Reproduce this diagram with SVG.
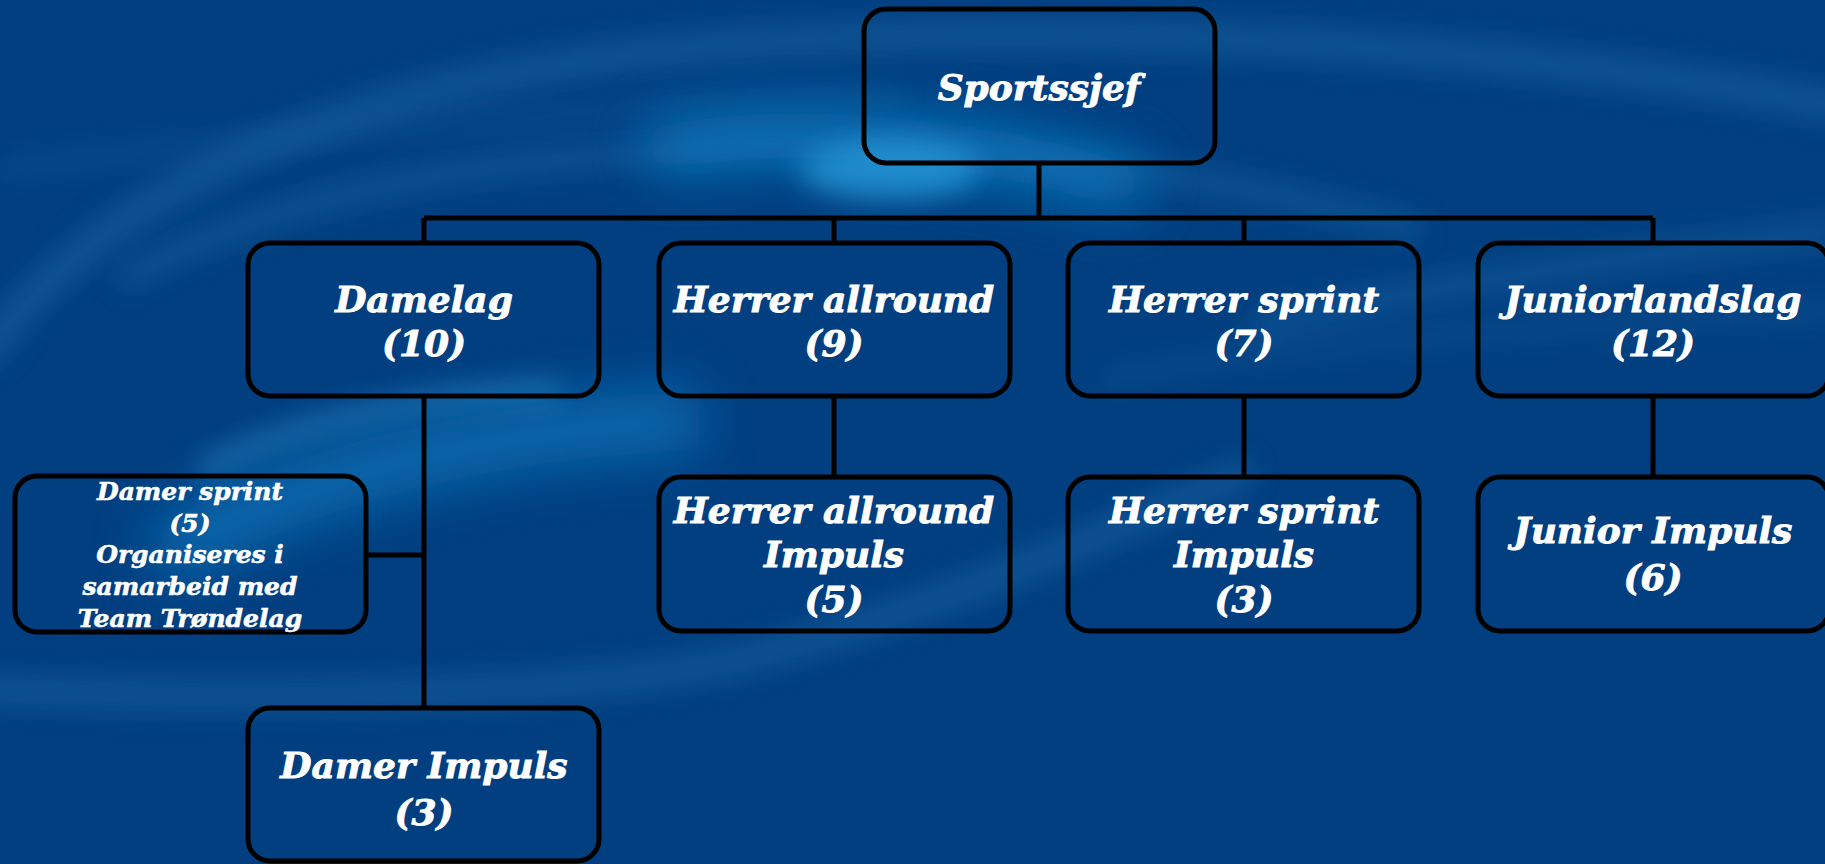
<svg xmlns="http://www.w3.org/2000/svg" width="1825" height="864" viewBox="0 0 1825 864">
<defs>
<style>
.box{fill:none;stroke:#000;stroke-width:5}
.t{font-family:"DejaVu Serif","Liberation Serif",serif;font-weight:bold;font-style:italic;font-size:36px;fill:#fff;stroke:#fff;stroke-width:0.9;text-anchor:middle}
.s{font-size:25px;stroke-width:0.6}
.c{stroke:#000;stroke-width:5;fill:none}
</style>
<filter id="b1" filterUnits="userSpaceOnUse" x="-300" y="-300" width="2425" height="1464"><feGaussianBlur stdDeviation="14"/></filter>
<filter id="b2" filterUnits="userSpaceOnUse" x="-300" y="-300" width="2425" height="1464"><feGaussianBlur stdDeviation="28"/></filter>
</defs>
<g id="background">
<rect width="1825" height="864" fill="#023f80"/>
<path d="M-20,360 C120,160 420,60 800,40 C1200,20 1600,60 1860,110" fill="none" stroke="#1a67a6" stroke-width="30" opacity="0.55" filter="url(#b1)"/>
<path d="M120,280 C320,170 600,140 900,150 C1150,160 1300,200 1420,230" fill="none" stroke="#1a6aaa" stroke-width="22" opacity="0.5" filter="url(#b1)"/>
<path d="M650,150 C800,120 980,140 1140,190" fill="none" stroke="#0a86cc" stroke-width="50" opacity="0.8" filter="url(#b2)"/>
<ellipse cx="890" cy="170" rx="90" ry="30" fill="#2aa0e0" opacity="0.7" filter="url(#b1)"/>
<path d="M160,560 C300,470 500,430 700,420" fill="none" stroke="#0a80c8" stroke-width="60" opacity="0.7" filter="url(#b2)"/>
<path d="M200,470 C300,420 420,395 560,390" fill="none" stroke="#3aa0dc" stroke-width="14" opacity="0.6" filter="url(#b1)"/>
<path d="M-20,690 C250,700 550,700 740,660 C900,620 1050,560 1250,470" fill="none" stroke="#1a6aaa" stroke-width="26" opacity="0.55" filter="url(#b1)"/>
<path d="M0,170 C300,130 600,110 900,100" fill="none" stroke="#1a65a5" stroke-width="16" opacity="0.35" filter="url(#b1)"/>
<path d="M1250,330 C1400,290 1600,260 1840,230" fill="none" stroke="#1a6aaa" stroke-width="24" opacity="0.45" filter="url(#b1)"/>
<path d="M1100,380 C1300,340 1500,330 1840,310" fill="none" stroke="#1a6aaa" stroke-width="14" opacity="0.35" filter="url(#b1)"/>
</g>
<g id="connectors">
<path class="c" d="M1039,163 V218 M424,218 H1653 M424,218 V243 M834,218 V243 M1244,218 V243 M1653,218 V243"/>
<path class="c" d="M424,396 V708 M366,555 H424"/>
<path class="c" d="M834,396 V477 M1244,396 V477 M1653,396 V477"/>
</g>
<g id="sportssjef">
<rect class="box" x="864" y="9" width="351" height="154" rx="22"/>
<text class="t" x="1039" y="100">Sportssjef</text>
</g>
<g id="damelag">
<rect class="box" x="248" y="243" width="351" height="153" rx="22"/>
<text class="t" x="424" y="312">Damelag</text>
<text class="t" x="424" y="356">(10)</text>
</g>
<g id="herrer-allround">
<rect class="box" x="659" y="243" width="351" height="153" rx="22"/>
<text class="t" x="834" y="312">Herrer allround</text>
<text class="t" x="834" y="356">(9)</text>
</g>
<g id="herrer-sprint">
<rect class="box" x="1068" y="243" width="351" height="153" rx="22"/>
<text class="t" x="1244" y="312">Herrer sprint</text>
<text class="t" x="1244" y="356">(7)</text>
</g>
<g id="juniorlandslag">
<rect class="box" x="1478" y="243" width="351" height="153" rx="22"/>
<text class="t" x="1653" y="312">Juniorlandslag</text>
<text class="t" x="1653" y="356">(12)</text>
</g>
<g id="damer-sprint">
<rect class="box" x="15" y="476" width="351" height="156" rx="22"/>
<text class="t s" x="190" y="500">Damer sprint</text>
<text class="t s" x="190" y="532">(5)</text>
<text class="t s" x="190" y="563">Organiseres i</text>
<text class="t s" x="190" y="595">samarbeid med</text>
<text class="t s" x="190" y="627">Team Trøndelag</text>
</g>
<g id="herrer-allround-impuls">
<rect class="box" x="659" y="477" width="351" height="154" rx="22"/>
<text class="t" x="834" y="523">Herrer allround</text>
<text class="t" x="834" y="567">Impuls</text>
<text class="t" x="834" y="612">(5)</text>
</g>
<g id="herrer-sprint-impuls">
<rect class="box" x="1068" y="477" width="351" height="154" rx="22"/>
<text class="t" x="1244" y="523">Herrer sprint</text>
<text class="t" x="1244" y="567">Impuls</text>
<text class="t" x="1244" y="612">(3)</text>
</g>
<g id="junior-impuls">
<rect class="box" x="1478" y="477" width="351" height="154" rx="22"/>
<text class="t" x="1653" y="543">Junior Impuls</text>
<text class="t" x="1653" y="590">(6)</text>
</g>
<g id="damer-impuls">
<rect class="box" x="248" y="708" width="351" height="153" rx="22"/>
<text class="t" x="424" y="778">Damer Impuls</text>
<text class="t" x="424" y="825">(3)</text>
</g>
</svg>
